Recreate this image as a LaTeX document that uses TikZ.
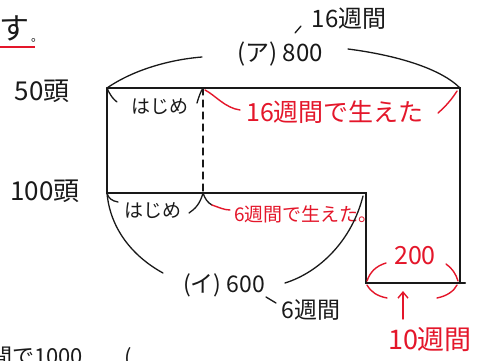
\documentclass[tikz,border=0pt]{standalone}
\usepackage{fontspec}
\setmainfont{Noto Sans CJK JP}
\usetikzlibrary{arrows.meta}
\definecolor{redink}{RGB}{228,22,42}
\definecolor{blackink}{RGB}{25,25,25}
\begin{document}
\begin{tikzpicture}[x=1pt,y=-1pt,
  frame/.style={line width=2pt, draw=blackink, line cap=round},
  pen/.style={line width=1.3pt, draw=blackink, line cap=round},
  redpen/.style={line width=1.4pt, draw=redink, line cap=round},
  lbl/.style={inner sep=0pt, text=blackink},
  redlbl/.style={inner sep=0pt, text=redink}]
\useasboundingbox (0,0) rectangle (478,360);
\clip (0,0) rectangle (478,360);
\fill[white] (0,0) rectangle (478,360);
% corner coordinates
\coordinate (TL) at (107,88);
\coordinate (TR) at (460,88);
\coordinate (ML) at (107,193);
\coordinate (MR) at (366,193);
\coordinate (BL) at (366,283);
\coordinate (BRR) at (460,283);
\coordinate (BE) at (465,283);
\coordinate (D1) at (203,88);
\coordinate (D2) at (203,193);
% frame
\draw[frame] (TL) -- (TR) -- (BRR);
\draw[frame] (TL) -- (ML) -- (MR) -- (BL) -- (BE);
\draw[pen, dash pattern=on 7pt off 5pt] (D1) -- (D2);
% labels
\node[lbl, font=\fontsize{30}{30}\selectfont] (su) at (14,28) {す};
\node[lbl, font=\fontsize{12}{12}\selectfont] (maru) at (37,40) {。};
\draw[redink, line width=1.8pt] (0,47) -- (35,47);
\node[lbl, font=\fontsize{26}{26}\selectfont] (h50) at (42,91) {50頭};
\node[lbl, font=\fontsize{26}{26}\selectfont] (h100) at (45,191) {100頭};
\node[lbl, font=\fontsize{19}{19}\selectfont] (haj1) at (160,107) {はじめ};
\node[lbl, font=\fontsize{19}{19}\selectfont] (haj2) at (153,211) {はじめ};
\node[lbl, font=\fontsize{24}{24}\selectfont] (a800) at (280,54) {(ア) 800};
\node[lbl, font=\fontsize{24}{24}\selectfont] (w16) at (349,19) {16週間};
\node[lbl, font=\fontsize{23}{23}\selectfont] (i600) at (224,285) {(イ) 600};
\node[lbl, font=\fontsize{23}{23}\selectfont] (w6) at (311,310) {6週間};
\node[redlbl, font=\fontsize{25}{25}\selectfont] (r16) at (335,112) {16週間で生えた};
\node[redlbl, font=\fontsize{19}{19}\selectfont] (r6) at (306,214) {6週間で生えた。};
\node[redlbl, font=\fontsize{25}{25}\selectfont] (r200) at (415,256) {200};
\node[redlbl, font=\fontsize{27}{27}\selectfont] (r10) at (430,340) {10週間};
\node[lbl, font=\fontsize{22}{22}\selectfont, anchor=north west] (bot) at (-10,347) {間で1000};
\node[lbl, font=\fontsize{22}{22}\selectfont, anchor=north] (par) at (128,347) {(};
% braces (black)
\draw[pen] (TL) .. controls (130,72) and (165,60) .. (202,57);
\draw[pen] (348,49) .. controls (395,55) and (440,68) .. (TR);
\draw[pen] (ML) .. controls (110,228) and (132,256) .. (163,273);
\draw[pen] (285,283) .. controls (320,272) and (352,240) .. (363,196);
\draw[pen] (TL) .. controls (110,95) and (113,99) .. (117,102);
\draw[pen] (197,103) .. controls (199,96) and (201,91) .. (D1);
\draw[pen] (ML) .. controls (108,198) and (112,201) .. (118,202);
\draw[pen] (189,213) .. controls (195,209) and (200,204) .. (D2);
\draw[pen] (D2) .. controls (205,199) and (208,203) .. (212,205);
\draw[pen] (295,33) -- (301,26);
\draw[pen] (266,297) -- (276,303);
% red leaders
\draw[redpen] (205,90) .. controls (215,95) and (225,108) .. (240,110);
\draw[redpen] (438,113) .. controls (446,106) and (452,99) .. (457,91);
\draw[redpen] (212,205) .. controls (218,207) and (224,210) .. (230,210);
\draw[redpen] (367,281) .. controls (370,272) and (376,266) .. (386,263);
\draw[redpen] (446,264) .. controls (452,268) and (456,274) .. (458,281);
\draw[redpen] (367,285) .. controls (371,292) and (377,296) .. (387,298);
\draw[redpen] (437,298) .. controls (447,296) and (454,291) .. (457,285);
\coordinate (arrS) at (403,319);
\coordinate (arrE) at (403,291);
\draw[redpen, -{Straight Barb[length=6pt,width=10pt]}] (arrS) -- (arrE);
\end{tikzpicture}
\end{document}
